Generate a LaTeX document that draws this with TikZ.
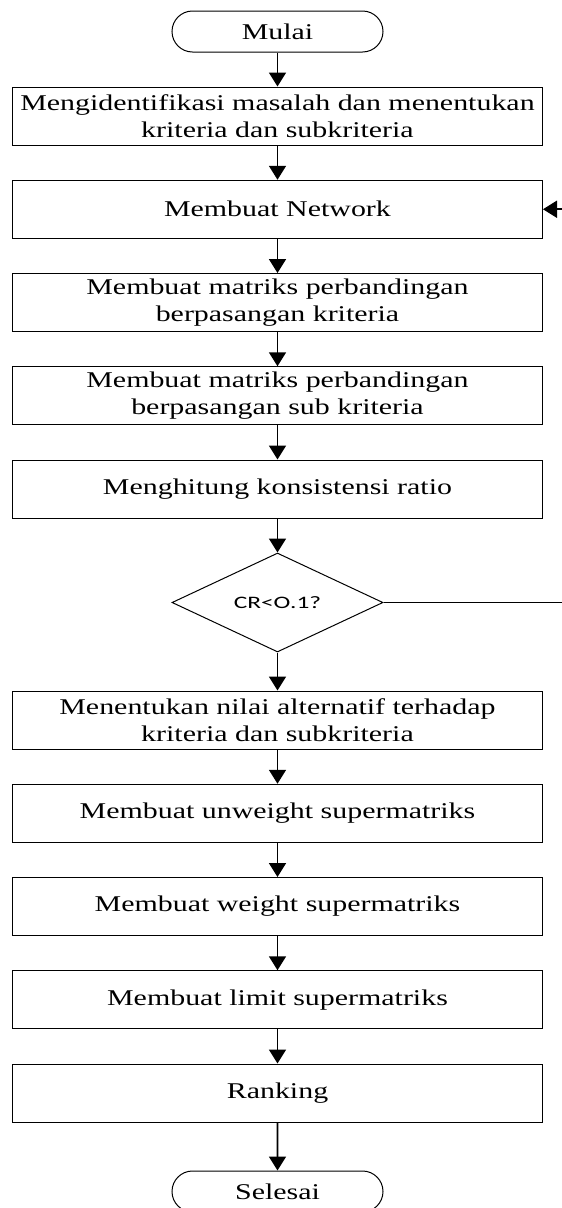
\documentclass[tikz,border=0pt]{standalone}
\usepackage{fontspec}
\setmainfont{Liberation Serif}[FakeStretch=1.33]
\newfontfamily\cekfont{Carlito}[FakeStretch=1.45]
\usetikzlibrary{arrows.meta,shapes.geometric,shapes.misc}

\tikzset{
  proses/.style={draw, line width=1pt, minimum width=530pt, minimum height=58pt,
    inner sep=0pt, align=center, font=\fontsize{22.5}{27}\selectfont},
  terminal/.style={draw, line width=1pt, rounded rectangle, minimum width=211pt,
    minimum height=41pt, inner sep=0pt, font=\fontsize{22.5}{27}\selectfont},
  keputusan/.style={draw, line width=1pt, diamond, aspect=2.13, minimum width=211pt,
    minimum height=99pt, inner sep=0pt, font=\cekfont\fontsize{17.5}{21}\selectfont},
  panah/.style={line width=1.8pt, -{Triangle[length=14pt,width=17pt]}}
}

\begin{document}
\begin{tikzpicture}[x=1pt,y=1pt]

  \useasboundingbox (0,0) rectangle (562,-1208);

  \node [terminal] (mulai) at (277.5,-31.5) {Mulai};

  \foreach \teks [count=\i from 1] in {{Mengidentifikasi masalah dan menentukan\\kriteria dan subkriteria}, Membuat Network, {Membuat matriks perbandingan\\berpasangan kriteria}, {Membuat matriks perbandingan\\berpasangan sub kriteria}, Menghitung konsistensi ratio} {
    \pgfmathsetmacro{\y}{-116 - 93.25 * (\i - 1)};
    \node [proses] (lang\i) at (277.5,\y) {\teks};
  }

  \node [keputusan] (cek) at (277.5,-602.5) {CR<O.1?};

  \foreach \teks [count=\i from 6] in {{Menentukan nilai alternatif terhadap\\kriteria dan subkriteria}, Membuat unweight supermatriks, Membuat weight supermatriks, Membuat limit supermatriks, Ranking} {
    \pgfmathsetmacro{\y}{-720 - 93.25 * (\i - 6)};
    \node [proses] (lang\i) at (277.5,\y) {\teks};
  }

  \node [terminal] (selesai) at (277.5,-1191.5) {Selesai};

  \foreach \a/\b in {mulai/lang1, lang1/lang2, lang2/lang3, lang3/lang4, lang4/lang5, lang5/cek, cek/lang6, lang6/lang7, lang7/lang8, lang8/lang9, lang9/lang10, lang10/selesai} {
    \draw [panah] (\a) -- (\b);
  }

  \coordinate (balik) at (566,-602.5);
  \draw [panah] (cek.east) -- (balik) |- (lang2.east);

\end{tikzpicture}
\end{document}
